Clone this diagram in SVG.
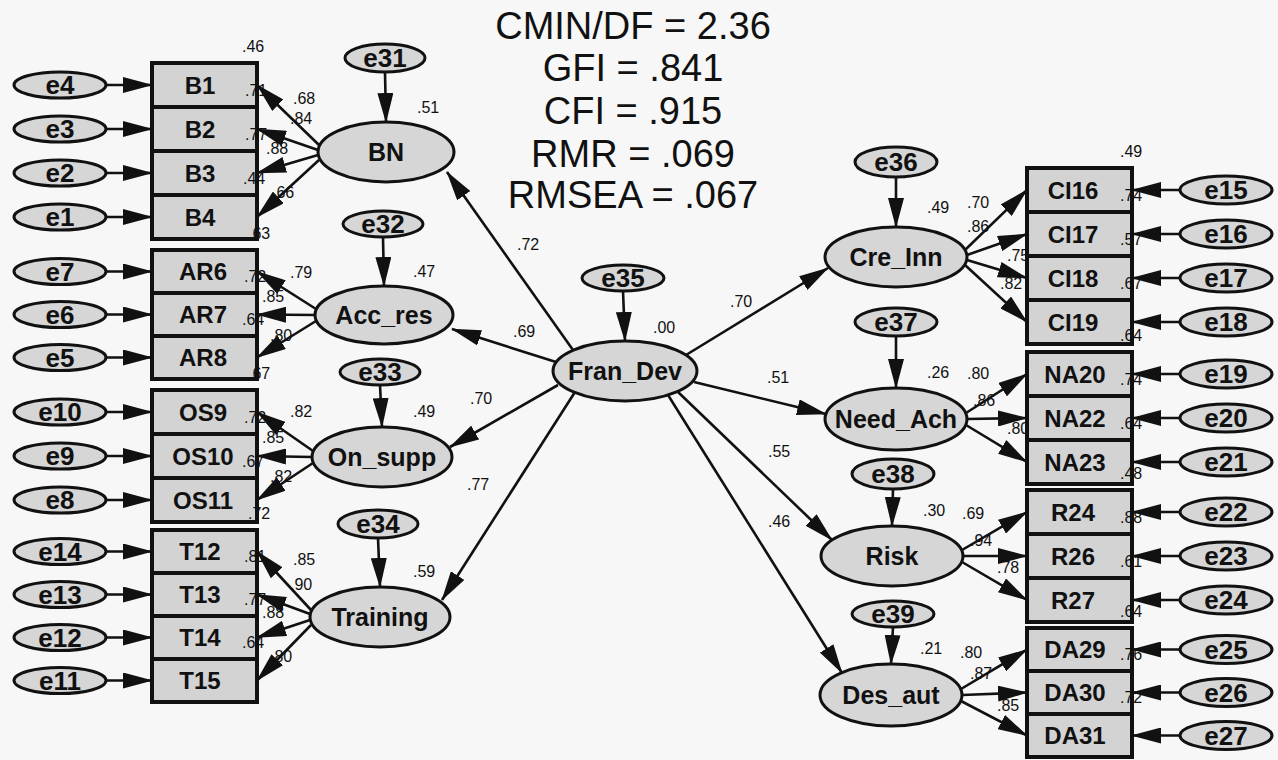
<svg xmlns="http://www.w3.org/2000/svg" width="1278" height="760" viewBox="0 0 1278 760">
<defs>
<marker id="ah" viewBox="0 0 30 16" refX="29" refY="8" markerWidth="30" markerHeight="16" markerUnits="userSpaceOnUse" orient="auto"><path d="M0,0 L30,8 L0,16 z" fill="#111"/></marker>
<style>
.bx{fill:#d3d3d3;stroke:#111;stroke-width:4}
.el{fill:#d6d6d6;stroke:#111;stroke-width:3}
.c{stroke:#111;stroke-width:2.6;fill:none;marker-end:url(#ah)}
.et{font-family:"Liberation Sans",Arial,sans-serif;font-weight:bold;font-size:26px;text-anchor:middle;fill:#111}
.bt{font-family:"Liberation Sans",Arial,sans-serif;font-weight:bold;font-size:24px;text-anchor:middle;fill:#111}
.lt{font-family:"Liberation Sans",Arial,sans-serif;font-weight:bold;font-size:25px;text-anchor:middle;fill:#111}
.n{font-family:"Liberation Sans",Arial,sans-serif;font-size:16px;fill:#111}
.fit{font-family:"Liberation Sans",Arial,sans-serif;font-size:38px;text-anchor:middle;fill:#111}
</style>
</defs>
<rect width="1278" height="760" fill="#f7f7f7"/>

<g id="fit">
<text class="fit" x="633" y="39">CMIN/DF = 2.36</text>
<text class="fit" x="633" y="81">GFI = .841</text>
<text class="fit" x="633" y="124">CFI = .915</text>
<text class="fit" x="633" y="167">RMR = .069</text>
<text class="fit" x="633" y="208">RMSEA = .067</text>
</g>

<!-- left observed -->
<g id="B1"><rect class="bx" x="152" y="63" width="105" height="44"/><text class="bt" x="200" y="94">B1</text></g>
<g id="B2"><rect class="bx" x="152" y="107" width="105" height="44"/><text class="bt" x="200" y="138">B2</text></g>
<g id="B3"><rect class="bx" x="152" y="151" width="105" height="44"/><text class="bt" x="200" y="182">B3</text></g>
<g id="B4"><rect class="bx" x="152" y="195" width="105" height="44"/><text class="bt" x="200" y="226">B4</text></g>
<g id="AR6"><rect class="bx" x="152" y="250" width="105" height="43"/><text class="bt" x="203" y="280">AR6</text></g>
<g id="AR7"><rect class="bx" x="152" y="293" width="105" height="43"/><text class="bt" x="203" y="323">AR7</text></g>
<g id="AR8"><rect class="bx" x="152" y="336" width="105" height="43"/><text class="bt" x="203" y="366">AR8</text></g>
<g id="OS9"><rect class="bx" x="152" y="390" width="105" height="44"/><text class="bt" x="203" y="421">OS9</text></g>
<g id="OS10"><rect class="bx" x="152" y="434" width="105" height="44"/><text class="bt" x="203" y="465">OS10</text></g>
<g id="OS11"><rect class="bx" x="152" y="478" width="105" height="44"/><text class="bt" x="203" y="509">OS11</text></g>
<g id="T12"><rect class="bx" x="152" y="530" width="105" height="43"/><text class="bt" x="200" y="560">T12</text></g>
<g id="T13"><rect class="bx" x="152" y="573" width="105" height="43"/><text class="bt" x="200" y="603">T13</text></g>
<g id="T14"><rect class="bx" x="152" y="616" width="105" height="43"/><text class="bt" x="200" y="646">T14</text></g>
<g id="T15"><rect class="bx" x="152" y="659" width="105" height="43"/><text class="bt" x="200" y="689">T15</text></g>

<!-- left errors -->
<g id="e4"><ellipse class="el" cx="60" cy="85" rx="46" ry="13"/><text class="et" x="60" y="94">e4</text></g>
<g id="e3"><ellipse class="el" cx="60" cy="129" rx="46" ry="13"/><text class="et" x="60" y="138">e3</text></g>
<g id="e2"><ellipse class="el" cx="60" cy="173" rx="46" ry="13"/><text class="et" x="60" y="182">e2</text></g>
<g id="e1"><ellipse class="el" cx="60" cy="217" rx="46" ry="13"/><text class="et" x="60" y="226">e1</text></g>
<g id="e7"><ellipse class="el" cx="60" cy="271.5" rx="46" ry="13"/><text class="et" x="60" y="280.5">e7</text></g>
<g id="e6"><ellipse class="el" cx="60" cy="314.5" rx="46" ry="13"/><text class="et" x="60" y="323.5">e6</text></g>
<g id="e5"><ellipse class="el" cx="60" cy="357.5" rx="46" ry="13"/><text class="et" x="60" y="366.5">e5</text></g>
<g id="e10"><ellipse class="el" cx="60" cy="412" rx="46" ry="13"/><text class="et" x="60" y="421">e10</text></g>
<g id="e9"><ellipse class="el" cx="60" cy="456" rx="46" ry="13"/><text class="et" x="60" y="465">e9</text></g>
<g id="e8"><ellipse class="el" cx="60" cy="500" rx="46" ry="13"/><text class="et" x="60" y="509">e8</text></g>
<g id="e14"><ellipse class="el" cx="60" cy="551.5" rx="46" ry="13"/><text class="et" x="60" y="560.5">e14</text></g>
<g id="e13"><ellipse class="el" cx="60" cy="594.5" rx="46" ry="13"/><text class="et" x="60" y="603.5">e13</text></g>
<g id="e12"><ellipse class="el" cx="60" cy="637.5" rx="46" ry="13"/><text class="et" x="60" y="646.5">e12</text></g>
<g id="e11"><ellipse class="el" cx="60" cy="680.5" rx="46" ry="13"/><text class="et" x="60" y="689.5">e11</text></g>

<!-- left latents -->
<g id="BN"><ellipse class="el" cx="386" cy="152" rx="68" ry="30"/><text class="lt" x="386" y="161">BN</text></g>
<g id="Acc_res"><ellipse class="el" cx="384" cy="315" rx="69" ry="29"/><text class="lt" x="384" y="324">Acc_res</text></g>
<g id="On_supp"><ellipse class="el" cx="382" cy="457" rx="70" ry="30"/><text class="lt" x="382" y="466">On_supp</text></g>
<g id="Training"><ellipse class="el" cx="380" cy="617" rx="70" ry="30"/><text class="lt" x="380" y="626">Training</text></g>
<g id="e31"><ellipse class="el" cx="385" cy="58" rx="40" ry="14"/><text class="et" x="385" y="67">e31</text></g>
<g id="e32"><ellipse class="el" cx="383" cy="224" rx="40" ry="13"/><text class="et" x="383" y="233">e32</text></g>
<g id="e33"><ellipse class="el" cx="380" cy="372" rx="40" ry="13"/><text class="et" x="380" y="381">e33</text></g>
<g id="e34"><ellipse class="el" cx="378" cy="524" rx="40" ry="14"/><text class="et" x="378" y="533">e34</text></g>

<!-- center -->
<g id="Fran_Dev"><ellipse class="el" cx="625" cy="371" rx="72" ry="30"/><text class="lt" x="625" y="380">Fran_Dev</text></g>
<g id="e35"><ellipse class="el" cx="623" cy="278" rx="41" ry="13"/><text class="et" x="623" y="287">e35</text></g>

<!-- right latents -->
<g id="Cre_Inn"><ellipse class="el" cx="896" cy="257" rx="71" ry="30"/><text class="lt" x="896" y="266">Cre_Inn</text></g>
<g id="Need_Ach"><ellipse class="el" cx="896" cy="419" rx="71" ry="31"/><text class="lt" x="896" y="428">Need_Ach</text></g>
<g id="Risk"><ellipse class="el" cx="892" cy="556" rx="71" ry="30"/><text class="lt" x="892" y="565">Risk</text></g>
<g id="Des_aut"><ellipse class="el" cx="891" cy="695" rx="71" ry="31"/><text class="lt" x="891" y="704">Des_aut</text></g>
<g id="e36"><ellipse class="el" cx="896" cy="162" rx="41" ry="15"/><text class="et" x="896" y="171">e36</text></g>
<g id="e37"><ellipse class="el" cx="896" cy="322" rx="41" ry="14"/><text class="et" x="896" y="331">e37</text></g>
<g id="e38"><ellipse class="el" cx="893" cy="474" rx="41" ry="15"/><text class="et" x="893" y="483">e38</text></g>
<g id="e39"><ellipse class="el" cx="893" cy="614" rx="41" ry="13"/><text class="et" x="893" y="623">e39</text></g>

<!-- right observed -->
<g id="CI16"><rect class="bx" x="1027" y="168" width="105" height="44"/><text class="bt" x="1073" y="199">CI16</text></g>
<g id="CI17"><rect class="bx" x="1027" y="212" width="105" height="44"/><text class="bt" x="1073" y="243">CI17</text></g>
<g id="CI18"><rect class="bx" x="1027" y="256" width="105" height="44"/><text class="bt" x="1073" y="287">CI18</text></g>
<g id="CI19"><rect class="bx" x="1027" y="300" width="105" height="44"/><text class="bt" x="1073" y="331">CI19</text></g>
<g id="NA20"><rect class="bx" x="1027" y="352" width="105" height="44"/><text class="bt" x="1075" y="383">NA20</text></g>
<g id="NA22"><rect class="bx" x="1027" y="396" width="105" height="44"/><text class="bt" x="1075" y="427">NA22</text></g>
<g id="NA23"><rect class="bx" x="1027" y="440" width="105" height="44"/><text class="bt" x="1075" y="471">NA23</text></g>
<g id="R24"><rect class="bx" x="1027" y="490" width="105" height="44"/><text class="bt" x="1073" y="521">R24</text></g>
<g id="R26"><rect class="bx" x="1027" y="534" width="105" height="44"/><text class="bt" x="1073" y="565">R26</text></g>
<g id="R27"><rect class="bx" x="1027" y="578" width="105" height="44"/><text class="bt" x="1073" y="609">R27</text></g>
<g id="DA29"><rect class="bx" x="1027" y="628" width="105" height="43"/><text class="bt" x="1075" y="658">DA29</text></g>
<g id="DA30"><rect class="bx" x="1027" y="671" width="105" height="43"/><text class="bt" x="1075" y="701">DA30</text></g>
<g id="DA31"><rect class="bx" x="1027" y="714" width="105" height="43"/><text class="bt" x="1075" y="744">DA31</text></g>

<!-- right errors -->
<g id="e15"><ellipse class="el" cx="1226" cy="190" rx="46" ry="14"/><text class="et" x="1226" y="199">e15</text></g>
<g id="e16"><ellipse class="el" cx="1226" cy="234" rx="46" ry="14"/><text class="et" x="1226" y="243">e16</text></g>
<g id="e17"><ellipse class="el" cx="1226" cy="278" rx="46" ry="14"/><text class="et" x="1226" y="287">e17</text></g>
<g id="e18"><ellipse class="el" cx="1226" cy="322" rx="46" ry="14"/><text class="et" x="1226" y="331">e18</text></g>
<g id="e19"><ellipse class="el" cx="1226" cy="374" rx="46" ry="14"/><text class="et" x="1226" y="383">e19</text></g>
<g id="e20"><ellipse class="el" cx="1226" cy="418" rx="46" ry="14"/><text class="et" x="1226" y="427">e20</text></g>
<g id="e21"><ellipse class="el" cx="1226" cy="462" rx="46" ry="14"/><text class="et" x="1226" y="471">e21</text></g>
<g id="e22"><ellipse class="el" cx="1226" cy="512" rx="46" ry="14"/><text class="et" x="1226" y="521">e22</text></g>
<g id="e23"><ellipse class="el" cx="1226" cy="556" rx="46" ry="14"/><text class="et" x="1226" y="565">e23</text></g>
<g id="e24"><ellipse class="el" cx="1226" cy="600" rx="46" ry="14"/><text class="et" x="1226" y="609">e24</text></g>
<g id="e25"><ellipse class="el" cx="1226" cy="649.5" rx="46" ry="14"/><text class="et" x="1226" y="658.5">e25</text></g>
<g id="e26"><ellipse class="el" cx="1226" cy="692.5" rx="46" ry="14"/><text class="et" x="1226" y="701.5">e26</text></g>
<g id="e27"><ellipse class="el" cx="1226" cy="735.5" rx="46" ry="14"/><text class="et" x="1226" y="744.5">e27</text></g>

<!-- numeric labels -->
<g id="labels">
<text class="n" x="242" y="52">.46</text>
<text class="n" x="245" y="96">.71</text>
<text class="n" x="245" y="140">.77</text>
<text class="n" x="243" y="184">.44</text>
<text class="n" x="248" y="239">.63</text>
<text class="n" x="244" y="282">.72</text>
<text class="n" x="242" y="325">.64</text>
<text class="n" x="248" y="379">.67</text>
<text class="n" x="244" y="423">.72</text>
<text class="n" x="242" y="467">.67</text>
<text class="n" x="248" y="519">.72</text>
<text class="n" x="244" y="562">.81</text>
<text class="n" x="244" y="605">.77</text>
<text class="n" x="242" y="648">.64</text>
<text class="n" x="293" y="104">.68</text>
<text class="n" x="290" y="124">.84</text>
<text class="n" x="266" y="154">.88</text>
<text class="n" x="272" y="198">.66</text>
<text class="n" x="290" y="278">.79</text>
<text class="n" x="262" y="302">.85</text>
<text class="n" x="270" y="341">.80</text>
<text class="n" x="290" y="417">.82</text>
<text class="n" x="262" y="443">.85</text>
<text class="n" x="270" y="482">.82</text>
<text class="n" x="293" y="565">.85</text>
<text class="n" x="290" y="590">.90</text>
<text class="n" x="262" y="618">.88</text>
<text class="n" x="270" y="662">.80</text>
<text class="n" x="417" y="113">.51</text>
<text class="n" x="413" y="277">.47</text>
<text class="n" x="413" y="417">.49</text>
<text class="n" x="413" y="577">.59</text>
<text class="n" x="517" y="250">.72</text>
<text class="n" x="513" y="337">.69</text>
<text class="n" x="470" y="404">.70</text>
<text class="n" x="467" y="490">.77</text>
<text class="n" x="653" y="333">.00</text>
<text class="n" x="730" y="307">.70</text>
<text class="n" x="767" y="383">.51</text>
<text class="n" x="768" y="457">.55</text>
<text class="n" x="768" y="527">.46</text>
<text class="n" x="927" y="213">.49</text>
<text class="n" x="967" y="208">.70</text>
<text class="n" x="967" y="232">.86</text>
<text class="n" x="1007" y="261">.75</text>
<text class="n" x="1000" y="289">.82</text>
<text class="n" x="927" y="378">.26</text>
<text class="n" x="967" y="379">.80</text>
<text class="n" x="973" y="406">.86</text>
<text class="n" x="1007" y="434">.80</text>
<text class="n" x="923" y="516">.30</text>
<text class="n" x="962" y="519">.69</text>
<text class="n" x="970" y="546">.94</text>
<text class="n" x="997" y="573">.78</text>
<text class="n" x="920" y="654">.21</text>
<text class="n" x="960" y="658">.80</text>
<text class="n" x="970" y="679">.87</text>
<text class="n" x="997" y="711">.85</text>
<text class="n" x="1120" y="157">.49</text>
<text class="n" x="1120" y="201">.74</text>
<text class="n" x="1120" y="245">.57</text>
<text class="n" x="1120" y="289">.67</text>
<text class="n" x="1120" y="341">.64</text>
<text class="n" x="1120" y="385">.74</text>
<text class="n" x="1120" y="429">.64</text>
<text class="n" x="1120" y="479">.48</text>
<text class="n" x="1120" y="523">.88</text>
<text class="n" x="1120" y="567">.61</text>
<text class="n" x="1120" y="617">.64</text>
<text class="n" x="1120" y="660">.76</text>
<text class="n" x="1120" y="703">.72</text>
</g>

<g id="connectors">
<path class="c" d="M106,85 L152,85"/>
<path class="c" d="M106,129 L152,129"/>
<path class="c" d="M106,173 L152,173"/>
<path class="c" d="M106,217 L152,217"/>
<path class="c" d="M106,271.5 L152,271.5"/>
<path class="c" d="M106,314.5 L152,314.5"/>
<path class="c" d="M106,357.5 L152,357.5"/>
<path class="c" d="M106,412 L152,412"/>
<path class="c" d="M106,456 L152,456"/>
<path class="c" d="M106,500 L152,500"/>
<path class="c" d="M106,551.5 L152,551.5"/>
<path class="c" d="M106,594.5 L152,594.5"/>
<path class="c" d="M106,637.5 L152,637.5"/>
<path class="c" d="M106,680.5 L152,680.5"/>
<path class="c" d="M1180,190 L1132,190"/>
<path class="c" d="M1180,234 L1132,234"/>
<path class="c" d="M1180,278 L1132,278"/>
<path class="c" d="M1180,322 L1132,322"/>
<path class="c" d="M1180,374 L1132,374"/>
<path class="c" d="M1180,418 L1132,418"/>
<path class="c" d="M1180,462 L1132,462"/>
<path class="c" d="M1180,512 L1132,512"/>
<path class="c" d="M1180,556 L1132,556"/>
<path class="c" d="M1180,600 L1132,600"/>
<path class="c" d="M1180,649.5 L1132,649.5"/>
<path class="c" d="M1180,692.5 L1132,692.5"/>
<path class="c" d="M1180,735.5 L1132,735.5"/>
<path class="c" d="M385,72 L386,122"/>
<path class="c" d="M383,237 L384,286"/>
<path class="c" d="M380,385 L382,427"/>
<path class="c" d="M378,538 L380,587"/>
<path class="c" d="M623,291 L625,341"/>
<path class="c" d="M896,177 L896,227"/>
<path class="c" d="M896,336 L896,388"/>
<path class="c" d="M893,489 L892,526"/>
<path class="c" d="M893,627 L891,664"/>
<path class="c" d="M319,145 L257,85"/>
<path class="c" d="M318,150 L257,129"/>
<path class="c" d="M318,155 L257,173"/>
<path class="c" d="M319,160 L257,217"/>
<path class="c" d="M316,309 L257,271.5"/>
<path class="c" d="M315,315 L257,314.5"/>
<path class="c" d="M316,321 L257,357.5"/>
<path class="c" d="M313,451 L257,412"/>
<path class="c" d="M312,457 L257,456"/>
<path class="c" d="M313,463 L257,500"/>
<path class="c" d="M311,610 L257,551.5"/>
<path class="c" d="M310,614 L257,594.5"/>
<path class="c" d="M310,620 L257,637.5"/>
<path class="c" d="M311,625 L257,680.5"/>
<path class="c" d="M965,250 L1027,190"/>
<path class="c" d="M967,255 L1027,234"/>
<path class="c" d="M967,260 L1027,278"/>
<path class="c" d="M965,265 L1027,322"/>
<path class="c" d="M966,413 L1027,374"/>
<path class="c" d="M967,419 L1027,418"/>
<path class="c" d="M966,425 L1027,462"/>
<path class="c" d="M962,550 L1027,512"/>
<path class="c" d="M963,556 L1027,556"/>
<path class="c" d="M962,562 L1027,600"/>
<path class="c" d="M961,689 L1027,649.5"/>
<path class="c" d="M962,695 L1027,692.5"/>
<path class="c" d="M961,701 L1027,735.5"/>
<path class="c" d="M573,350 L447,172"/>
<path class="c" d="M556,362 L452,329"/>
<path class="c" d="M558,385 L450,447"/>
<path class="c" d="M575,392 L442,600"/>
<path class="c" d="M686,355 L828,268"/>
<path class="c" d="M694,382 L826,414"/>
<path class="c" d="M678,392 L832,540"/>
<path class="c" d="M668,395 L842,673"/>
</g>
</svg>
